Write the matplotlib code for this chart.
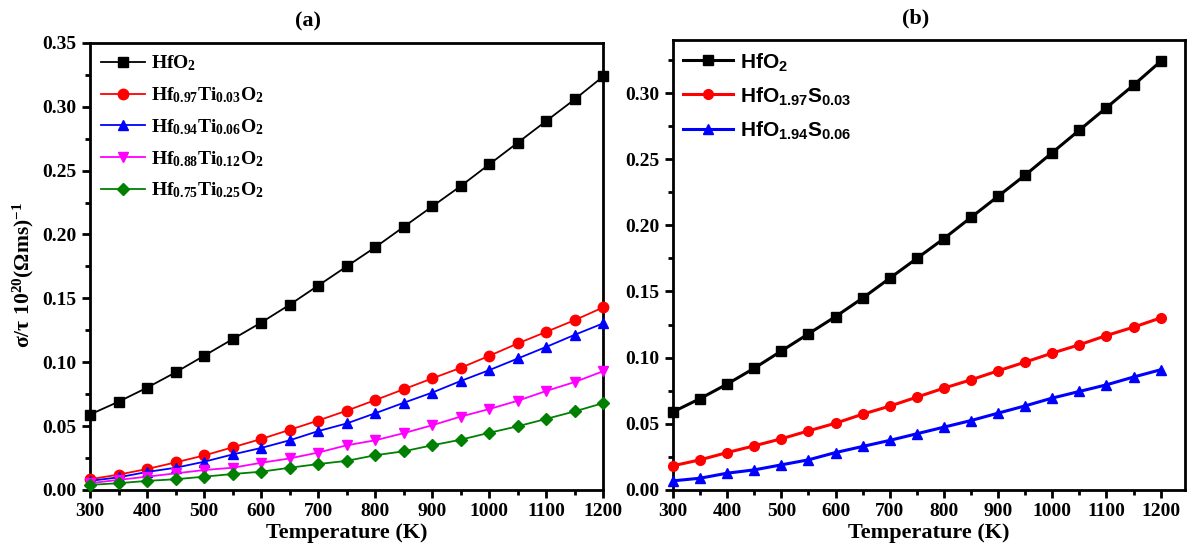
import matplotlib
matplotlib.use("Agg")
import matplotlib.pyplot as plt
from matplotlib.ticker import MultipleLocator

plt.rcParams['font.family'] = ['Liberation Serif', 'DejaVu Serif']
plt.rcParams['mathtext.fontset'] = 'custom'
plt.rcParams['mathtext.rm'] = 'Liberation Serif:bold'
plt.rcParams['mathtext.it'] = 'Liberation Serif:bold'
plt.rcParams['mathtext.bf'] = 'Liberation Serif:bold'
plt.rcParams['mathtext.sf'] = 'Liberation Sans:bold'

temps = [300, 350, 400, 450, 500, 550, 600, 650, 700, 750,
         800, 850, 900, 950, 1000, 1050, 1100, 1150, 1200]

# sigma/tau in 10^20 (Ohm m s)^-1
hfo2 = [0.059, 0.069, 0.080, 0.092, 0.105, 0.118, 0.131, 0.145, 0.160, 0.175,
        0.190, 0.206, 0.222, 0.238, 0.255, 0.272, 0.289, 0.306, 0.324]
ti_003 = [0.0083, 0.0119, 0.0163, 0.0215, 0.0269, 0.0333, 0.0398, 0.0470, 0.0543, 0.0620,
          0.0703, 0.0788, 0.0873, 0.0956, 0.1050, 0.1147, 0.1238, 0.1330, 0.1430]
ti_006 = [0.0070, 0.0098, 0.0140, 0.0173, 0.0220, 0.0277, 0.0328, 0.0388, 0.0460, 0.0520,
          0.0600, 0.0682, 0.0762, 0.0853, 0.0938, 0.1029, 0.1120, 0.1215, 0.1305]
ti_012 = [0.0052, 0.0078, 0.0103, 0.0129, 0.0155, 0.0173, 0.0212, 0.0246, 0.0292, 0.0349,
          0.0388, 0.0444, 0.0506, 0.0574, 0.0633, 0.0698, 0.0775, 0.0845, 0.0930]
ti_025 = [0.0039, 0.0052, 0.0070, 0.0083, 0.0103, 0.0124, 0.0142, 0.0173, 0.0202, 0.0227,
          0.0271, 0.0302, 0.0349, 0.0393, 0.0447, 0.0498, 0.0556, 0.0615, 0.0680]
s_003 = [0.0182, 0.0227, 0.0282, 0.0333, 0.0386, 0.0446, 0.0504, 0.0572, 0.0633, 0.0701,
         0.0769, 0.0832, 0.0900, 0.0966, 0.1034, 0.1097, 0.1167, 0.1230, 0.1300]
s_006 = [0.0068, 0.0088, 0.0126, 0.0151, 0.0189, 0.0227, 0.0282, 0.0328, 0.0374, 0.0424,
         0.0474, 0.0524, 0.0580, 0.0635, 0.0694, 0.0744, 0.0794, 0.0853, 0.0908]

labels_a = [r'HfO$_2$',
            r'Hf$_{0.97}$Ti$_{0.03}$O$_2$',
            r'Hf$_{0.94}$Ti$_{0.06}$O$_2$',
            r'Hf$_{0.88}$Ti$_{0.12}$O$_2$',
            r'Hf$_{0.75}$Ti$_{0.25}$O$_2$']
labels_b = [r'HfO$_\mathsf{2}$',
            r'HfO$_\mathsf{1.97}$S$_\mathsf{0.03}$',
            r'HfO$_\mathsf{1.94}$S$_\mathsf{0.06}$']

fig = plt.figure(figsize=(11.87, 5.51), dpi=100)
ax1 = fig.add_axes([0.0758, 0.111, 0.4326, 0.811])
ax2 = fig.add_axes([0.567, 0.111, 0.4313, 0.816])


def style_axes(ax, xmax, ymax, ymajor):
    ax.set_xlim(300, xmax)
    ax.set_ylim(0, ymax)
    ax.xaxis.set_major_locator(MultipleLocator(100))
    ax.xaxis.set_minor_locator(MultipleLocator(50))
    ax.yaxis.set_major_locator(MultipleLocator(ymajor))
    ax.yaxis.set_minor_locator(MultipleLocator(ymajor / 2))
    ax.tick_params(which='major', direction='out', length=6, width=2,
                   labelsize=14, top=False, right=False)
    ax.tick_params(which='minor', direction='out', length=3.5, width=2,
                   top=False, right=False)
    for lab in ax.get_xticklabels() + ax.get_yticklabels():
        lab.set_fontweight('bold')
    ax.yaxis.set_major_formatter(plt.FuncFormatter(lambda v, p: '%.2f' % v))
    for sp in ax.spines.values():
        sp.set_linewidth(2)
    ax.set_xlabel('Temperature (K)', fontsize=16, fontweight='bold', labelpad=2)


# panel (a): Ti doping
series_a = [(hfo2, 'black', 's'), (ti_003, 'red', 'o'), (ti_006, 'blue', '^'),
            (ti_012, 'magenta', 'v'), (ti_025, 'green', 'D')]
for (vals, col, mk), lab in zip(series_a, labels_a):
    ax1.plot(temps, vals, color=col, marker=mk, markersize=7.5 if mk != 'D' else 6.5,
             linewidth=1.3, label=lab, clip_on=False, zorder=3)
style_axes(ax1, 1200, 0.35, 0.05)
ax1.set_ylabel(r'$\sigma/\tau\ 10^{20}(\Omega ms)^{-1}$', fontsize=15.5)
ax1.yaxis.set_label_coords(-0.105, 0.48)
ax1.set_title('(a)', fontsize=16, fontweight='bold', pad=12, x=0.425)
ax1.legend(loc='upper left', frameon=False, handlelength=2.3,
           handletextpad=0.3, labelspacing=0.62, borderaxespad=0.15,
           prop={'family': 'Liberation Serif', 'weight': 'bold', 'size': 14})

# panel (b): S doping
series_b = [(hfo2, 'black', 's'), (s_003, 'red', 'o'), (s_006, 'blue', '^')]
for (vals, col, mk), lab in zip(series_b, labels_b):
    ax2.plot(temps, vals, color=col, marker=mk, markersize=7, linewidth=2.2,
             label=lab, clip_on=False, zorder=3)
style_axes(ax2, 1245, 0.34, 0.05)
ax2.set_title('(b)', fontsize=16, fontweight='bold', pad=12, x=0.473)
ax2.legend(loc='upper left', frameon=False, handlelength=2.4,
           handletextpad=0.3, labelspacing=0.58, borderaxespad=0.1,
           prop={'family': 'Liberation Sans', 'weight': 'bold', 'size': 15})

fig.savefig('out.png', dpi=100)
